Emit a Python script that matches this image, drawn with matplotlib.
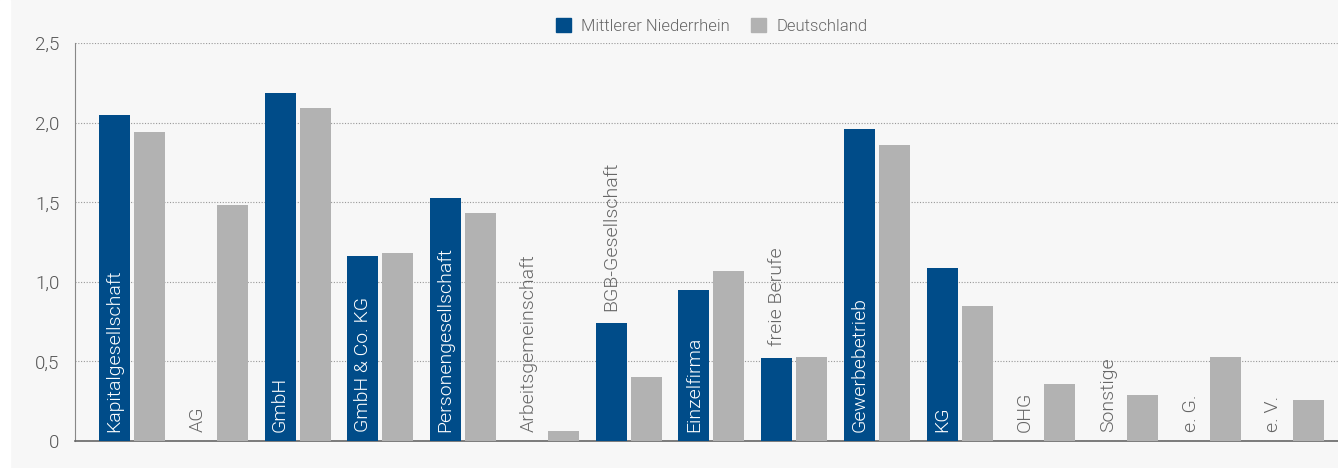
import matplotlib.pyplot as plt
import numpy as np
from matplotlib.patches import Patch, Rectangle

# Rechtsformen
kategorien = ['Kapitalgesellschaft', 'AG', 'GmbH', 'GmbH & Co. KG', 'Personengesellschaft',
              'Arbeitsgemeinschaft', 'BGB-Gesellschaft', 'Einzelfirma', 'freie Berufe',
              'Gewerbebetrieb', 'KG', 'OHG', 'Sonstige', 'e. G.', 'e. V.']
mittlerer_niederrhein = [2.05, 0, 2.19, 1.16, 1.53, 0, 0.74, 0.95, 0.52, 1.96, 1.09, 0, 0, 0, 0]
deutschland = [1.94, 1.48, 2.09, 1.18, 1.43, 0.06, 0.40, 1.07, 0.53, 1.86, 0.85, 0.36, 0.29, 0.53, 0.26]
y_ticks = [0, 0.5, 1.0, 1.5, 2.0, 2.5]
y_labels = ['0', '0,5', '1,0', '1,5', '2,0', '2,5']

blau = '#004c89'
grau = '#b2b2b2'
textgrau = '#666666'

plt.rcParams['font.family'] = ['Roboto', 'DejaVu Sans']
plt.rcParams['font.weight'] = 300

fig = plt.figure(figsize=(13.38, 4.68), dpi=100, facecolor='#f7f7f7')
fig.patches.append(Rectangle((0, 0), 0.0075, 1, transform=fig.transFigure,
                             color='white', zorder=0))
ax = fig.add_axes([0.056, 0.0577, 0.944, 0.850])
ax.set_facecolor('#f7f7f7')

x = np.arange(len(kategorien))
breite = 0.374
versatz = 0.211
ax.bar(x - versatz, mittlerer_niederrhein, breite, color=blau, zorder=3)
ax.bar(x + versatz, deutschland, breite, color=grau, zorder=3)

ax.set_xlim(-0.69, 14.57)
ax.set_ylim(0, 2.5)

# Beschriftung senkrecht im blauen Balken, sonst grau darüber
texte = []
for i, name in enumerate(kategorien):
    t = ax.annotate(name, xy=(x[i] - versatz, 0), xytext=(0, 6.5),
                    textcoords='offset points', rotation=90, ha='center', va='bottom',
                    fontsize=14, color='white', zorder=4)
    texte.append(t)

fig.canvas.draw()
renderer = fig.canvas.get_renderer()
for i, t in enumerate(texte):
    wert = mittlerer_niederrhein[i]
    hoehe_px = ax.transData.transform((0, wert))[1] - ax.transData.transform((0, 0))[1]
    text_px = t.get_window_extent(renderer).height
    if wert == 0:
        t.set_color(textgrau)
    elif text_px + 14 > hoehe_px:
        t.xy = (x[i] - versatz, wert)
        t.set_position((0, 9))
        t.set_color(textgrau)

ax.set_xticks([])
ax.set_yticks(y_ticks)
ax.set_yticklabels(y_labels, fontsize=13.5, color='#555555')
ax.tick_params(axis='y', length=0, pad=11)
ax.grid(axis='y', linestyle=(0, (1, 1.5)), color='#999999', linewidth=0.8, zorder=0)

for s in ['top', 'right']:
    ax.spines[s].set_visible(False)
ax.spines['left'].set_color('#888888')
ax.spines['bottom'].set_color('#666666')
ax.spines['bottom'].set_linewidth(1.2)

handles = [Patch(color=blau, label='Mittlerer Niederrhein'),
           Patch(color=grau, label='Deutschland')]
fig.legend(handles=handles, loc='center', bbox_to_anchor=(0.532, 0.944), ncol=2,
           frameon=False, fontsize=12, labelcolor=textgrau, handlelength=0.9,
           handleheight=0.9, handletextpad=0.6, columnspacing=1.3)

fig.savefig('out.png', dpi=100, facecolor=fig.get_facecolor())
